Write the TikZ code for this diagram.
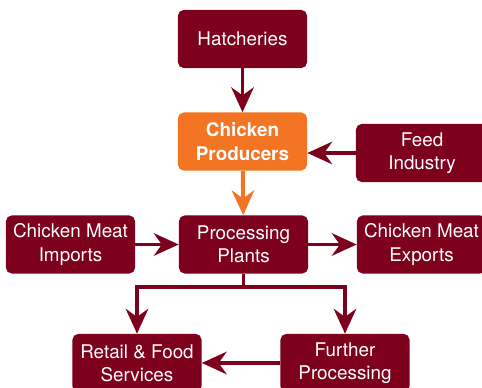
\documentclass[tikz,border=0pt]{standalone}
\usepackage{fontspec}
\setmainfont{TeX Gyre Heros}
\usepackage{xcolor}
\usepackage{tikz}
\usetikzlibrary{positioning}
\usetikzlibrary{arrows.meta}
\definecolor{wine}{RGB}{125,0,28}
\definecolor{carrot}{RGB}{243,116,34}

\begin{document}
\begin{tikzpicture}[x=0.025cm, y=-0.025cm]
            \tikzset{box/.style = {fill=wine, text=white, rounded corners=4pt, minimum width=3.225cm, minimum height=1.45cm, align=center, font=\fontsize{13.4}{16.5}\selectfont, inner sep=0pt}}
            \tikzset{edge/.style = {wine, line width=2.8pt, -{Stealth[length=0.62cm, width=0.56cm, inset=0.2cm]}}}

            \useasboundingbox (0,0) rectangle (482,388);

            % supply side
            \node[box] (hatch) at (242.5, 39) {Hatcheries};
            \node[box, fill=carrot, font=\fontsize{13.4}{16.5}\selectfont\bfseries] (prod) at (242.5, 141.5) {Chicken\\Producers};
            \node[box, minimum width=3.3cm] (feed) at (422, 153) {Feed\\Industry};

            % processing row
            \node[box] (imports) at (70.5, 244.5) {Chicken Meat\\Imports};
            \node[box] (plants) at (243.5, 244.5) {Processing\\Plants};
            \node[box] (exports) at (421.5, 244.5) {Chicken Meat\\Exports};

            % bottom row
            \node[box] (retail) at (137, 363) {Retail \& Food\\Services};
            \node[box] (further) at (345, 363) {Further\\Processing};

            % arrows
            \draw[edge] (hatch) -- (prod);
            \draw[edge] (feed.west) -- (feed.west -| prod.east);
            \draw[edge, carrot] (prod) -- (plants);
            \draw[edge] (imports) -- (plants);
            \draw[edge] (plants) -- (exports);
            \coordinate (split) at (243.5, 287);
            \draw[wine, line width=2.8pt] (plants.south) -- (split);
            \draw[edge] (split) -| (retail.north);
            \draw[edge] (split) -| (further.north);
            \draw[edge] (further) -- (retail);

        \end{tikzpicture}
\end{document}
